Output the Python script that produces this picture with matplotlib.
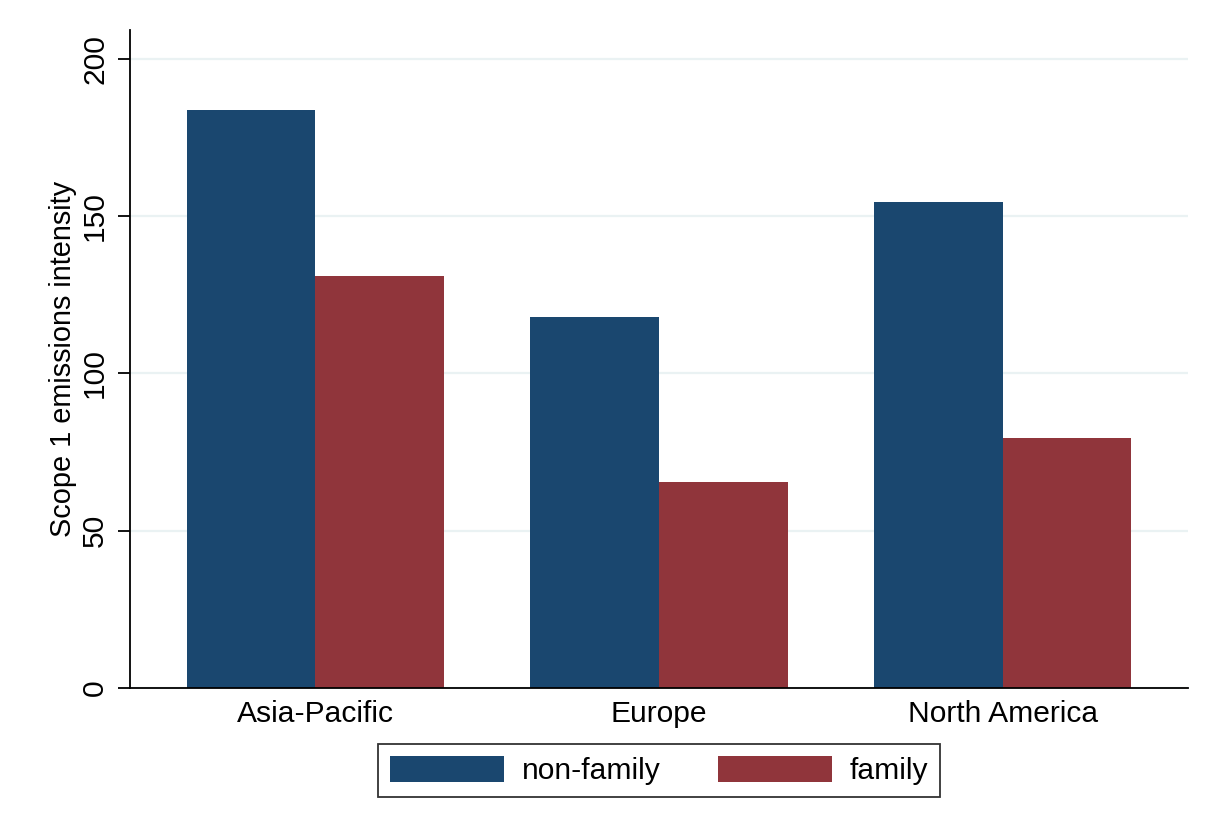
import numpy as np
import matplotlib
matplotlib.use("Agg")
import matplotlib.pyplot as plt

# values
regions = ["Asia-Pacific", "Europe", "North America"]
non_family = [183.8, 117.9, 154.4]
family = [131.0, 65.4, 79.4]
series_names = ["non-family", "family"]

plt.rcParams["font.family"] = ["Liberation Sans", "DejaVu Sans"]
fs = 21.6

fig = plt.figure(figsize=(12.16, 8.33), dpi=100)
ax = fig.add_axes([130 / 1216, 1 - 688 / 833, (1188 - 130) / 1216, (688 - 30) / 833])

x = np.arange(len(regions))
w = 0.3736
ax.bar(x - w / 2, non_family, width=w, color="#1a476f", label=series_names[0], zorder=2)
ax.bar(x + w / 2, family, width=w, color="#90353b", label=series_names[1], zorder=2)

ax.set_xlim(-0.538, 2.538)
ax.set_ylim(0, 209.2)
ax.set_yticks([0, 50, 100, 150, 200])
ax.set_xticks(x)
ax.set_xticklabels(regions)

# stata-like look
for s in ["top", "right"]:
    ax.spines[s].set_visible(False)
ax.spines["left"].set_linewidth(1.3)
ax.spines["bottom"].set_linewidth(1.3)
ax.yaxis.grid(True, color="#eaf2f3", linewidth=1.6, zorder=0)
ax.set_axisbelow(True)
ax.tick_params(axis="y", length=9, width=1.3, pad=6, labelsize=fs)
ax.tick_params(axis="x", length=0, pad=9, labelsize=fs)
for lbl in ax.get_yticklabels():
    lbl.set_rotation(90)
    lbl.set_va("center")

ax.set_ylabel("Scope 1 emissions intensity", fontsize=20.8, labelpad=3)

leg = fig.legend(loc="center", bbox_to_anchor=(659 / 1216, 1 - 770.5 / 833), ncol=2,
                 fontsize=fs, frameon=True, fancybox=False, edgecolor="black",
                 handlelength=3.8, handleheight=0.96, handletextpad=0.6,
                 columnspacing=1.9, borderpad=0.4)
leg.get_frame().set_linewidth(1.3)

fig.savefig("out.png", dpi=100, facecolor="white")
